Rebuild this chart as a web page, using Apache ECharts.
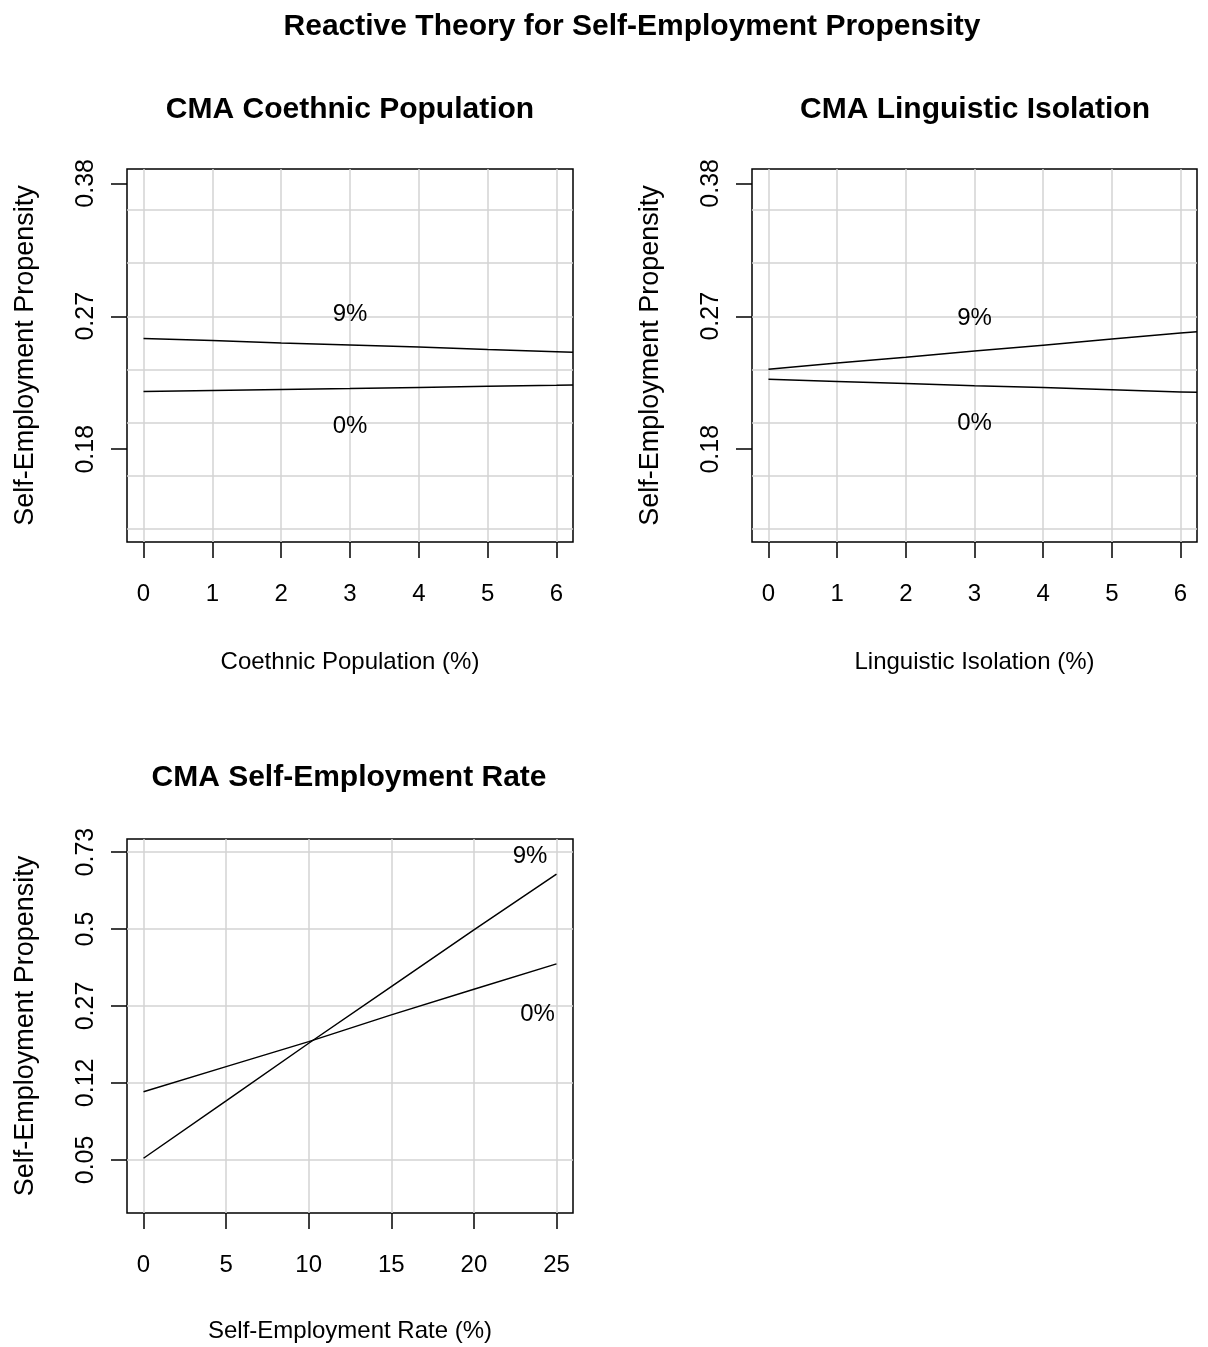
<!DOCTYPE html>
<html><head><meta charset="utf-8">
<script src="https://cdn.jsdelivr.net/npm/echarts@6/dist/echarts.min.js"></script>
<style>html,body{margin:0;padding:0;background:#fff}#c{width:1208px;height:1347px}</style>
</head><body><div id="c"></div>
<script>
// ---- data (probabilities; y axes are logit-scaled) ----
const xCoethnic = [0, 1, 2, 3, 4, 5, 6, 6.24];
const coethnic9 = [0.2529, 0.2514, 0.2497, 0.2483, 0.2468, 0.2451, 0.2436, 0.2432];
const coethnic0 = [0.2171, 0.2177, 0.2184, 0.2190, 0.2197, 0.2204, 0.2211, 0.2213];
const xLinguistic = [0, 1, 2, 3, 4, 5, 6, 6.24];
const linguistic9 = [0.2316, 0.2358, 0.2398, 0.2440, 0.2481, 0.2524, 0.2567, 0.2577];
const linguistic0 = [0.2250, 0.2235, 0.2222, 0.2208, 0.2196, 0.2182, 0.2168, 0.2165];
const xSelfEmp = [0, 5, 10, 15, 20, 25];
const selfEmp9 = [0.0484, 0.0967, 0.1848, 0.3213, 0.4970, 0.6713];
const selfEmp0 = [0.1078, 0.1433, 0.1880, 0.2468, 0.3140, 0.3888];

// tick positions / labels
const xTicksPct = [0, 1, 2, 3, 4, 5, 6];
const xTicksRate = [0, 5, 10, 15, 20, 25];
const yTickLogitTop = [-1.5, -1, -0.5];
const yTickLabelsTop = ['0.18', '0.27', '0.38'];
const yTickLogitBottom = [-3, -2, -1, 0, 1];
const yTickLabelsBottom = ['0.05', '0.12', '0.27', '0.5', '0.73'];
const yGridLogitTop = [-1.8, -1.6, -1.4, -1.2, -1.0, -0.8, -0.6];
const yGridLogitBottom = [-3, -2, -1, 0, 1];

// in-plot line labels: [x, probability]
const lineLabels = ['9%', '0%'];
const labelPosCoethnic = [[3, 0.2703], [3, 0.1954]];
const labelPosLinguistic = [[3, 0.2675], [3, 0.1972]];
const labelPosSelfEmp = [[23.4, 0.7202], [23.85, 0.2485]];

const titles = ['Reactive Theory for Self-Employment Propensity', 'CMA Coethnic Population', 'CMA Linguistic Isolation', 'CMA Self-Employment Rate'];
const xNames = ['Coethnic Population (%)', 'Linguistic Isolation (%)', 'Self-Employment Rate (%)'];
const yName = 'Self-Employment Propensity';

// ---- helpers ----
const logit = p => Math.log(p / (1 - p));
const FONT = "'Liberation Sans', Arial, sans-serif";
const pts = (xs, ps) => xs.map((x, i) => [x, logit(ps[i])]);

function xAxisOpt(gi, min, max, ticks, name, gap) {
  return {
    type: 'value', gridIndex: gi, min, max,
    axisLine: { show: false, onZero: false },
    axisTick: { show: true, customValues: ticks, length: 16, lineStyle: { color: '#000', width: 1.5 } },
    axisLabel: { customValues: ticks, margin: 40, fontSize: 24, color: '#000', fontFamily: FONT },
    splitLine: { show: false },
    name, nameLocation: 'middle', nameGap: gap,
    nameTextStyle: { fontSize: 24, color: '#000', fontFamily: FONT }
  };
}
function yAxisOpt(gi, min, max, ticks, labels) {
  return {
    type: 'value', gridIndex: gi, min, max,
    axisLine: { show: false, onZero: false },
    axisTick: { show: true, customValues: ticks, length: 16, lineStyle: { color: '#000', width: 1.5 } },
    axisLabel: {
      customValues: ticks, rotate: 90, margin: 28, fontSize: 25, color: '#000', fontFamily: FONT,
      formatter: v => { const i = ticks.findIndex(t => Math.abs(t - v) < 1e-9); return i >= 0 ? labels[i] : ''; }
    },
    splitLine: { show: false },
    name: yName, nameLocation: 'middle', nameGap: 88,
    nameTextStyle: { fontSize: 27, color: '#000', fontFamily: FONT }
  };
}
function gridSeries(gi, hVals, vVals) {
  return {
    type: 'line', xAxisIndex: gi, yAxisIndex: gi, data: [], z: 1, silent: true,
    markLine: {
      z: 1, silent: true, symbol: 'none', animation: false,
      label: { show: false },
      lineStyle: { color: '#d3d3d3', width: 1.5, type: 'solid' },
      emphasis: { disabled: true },
      data: hVals.map(v => ({ yAxis: v })).concat(vVals.map(v => ({ xAxis: v })))
    }
  };
}
function lineSeries(gi, xs, ps) {
  return {
    type: 'line', xAxisIndex: gi, yAxisIndex: gi, data: pts(xs, ps), z: 3,
    showSymbol: false, symbol: 'none', clip: true, silent: true,
    lineStyle: { color: '#000', width: 1.5 }
  };
}
function labelSeries(gi, pos) {
  return {
    type: 'scatter', xAxisIndex: gi, yAxisIndex: gi, z: 4, silent: true,
    data: pos.map(p => [p[0], logit(p[1])]),
    symbolSize: 2, itemStyle: { color: 'rgba(0,0,0,0)' },
    label: {
      show: true, position: 'inside', fontSize: 24, color: '#000', opacity: 1,
      textBorderWidth: 0, fontFamily: FONT,
      formatter: p => lineLabels[p.dataIndex]
    }
  };
}

const TS = { fontSize: 30, fontWeight: 'bold', color: '#000', fontFamily: FONT };
const chart = echarts.init(document.getElementById('c'), null, { renderer: 'canvas' });
chart.setOption({
  animation: false,
  backgroundColor: '#fff',
  title: [
    { text: titles[0], left: 632, top: 12, padding: 0, textAlign: 'center', textStyle: TS },
    { text: titles[1], left: 350, top: 95, padding: 0, textAlign: 'center', textStyle: TS },
    { text: titles[2], left: 975, top: 95, padding: 0, textAlign: 'center', textStyle: TS },
    { text: titles[3], left: 349, top: 763, padding: 0, textAlign: 'center', textStyle: TS }
  ],
  grid: [
    { left: 127, top: 169, width: 446, height: 373, show: true, borderColor: '#000', borderWidth: 1.5, backgroundColor: 'transparent' },
    { left: 752, top: 169, width: 445, height: 373, show: true, borderColor: '#000', borderWidth: 1.5, backgroundColor: 'transparent' },
    { left: 127, top: 839, width: 446, height: 374, show: true, borderColor: '#000', borderWidth: 1.5, backgroundColor: 'transparent' }
  ],
  xAxis: [
    xAxisOpt(0, -0.24, 6.24, xTicksPct, xNames[0], 108),
    xAxisOpt(1, -0.24, 6.24, xTicksPct, xNames[1], 108),
    xAxisOpt(2, -1, 26, xTicksRate, xNames[2], 106)
  ],
  yAxis: [
    yAxisOpt(0, -1.849, -0.446, yTickLogitTop, yTickLabelsTop),
    yAxisOpt(1, -1.849, -0.446, yTickLogitTop, yTickLabelsTop),
    yAxisOpt(2, -3.69, 1.17, yTickLogitBottom, yTickLabelsBottom)
  ],
  series: [
    gridSeries(0, yGridLogitTop, xTicksPct),
    gridSeries(1, yGridLogitTop, xTicksPct),
    gridSeries(2, yGridLogitBottom, xTicksRate),
    lineSeries(0, xCoethnic, coethnic9),
    lineSeries(0, xCoethnic, coethnic0),
    lineSeries(1, xLinguistic, linguistic9),
    lineSeries(1, xLinguistic, linguistic0),
    lineSeries(2, xSelfEmp, selfEmp9),
    lineSeries(2, xSelfEmp, selfEmp0),
    labelSeries(0, labelPosCoethnic),
    labelSeries(1, labelPosLinguistic),
    labelSeries(2, labelPosSelfEmp)
  ]
});
</script>
</body></html>
